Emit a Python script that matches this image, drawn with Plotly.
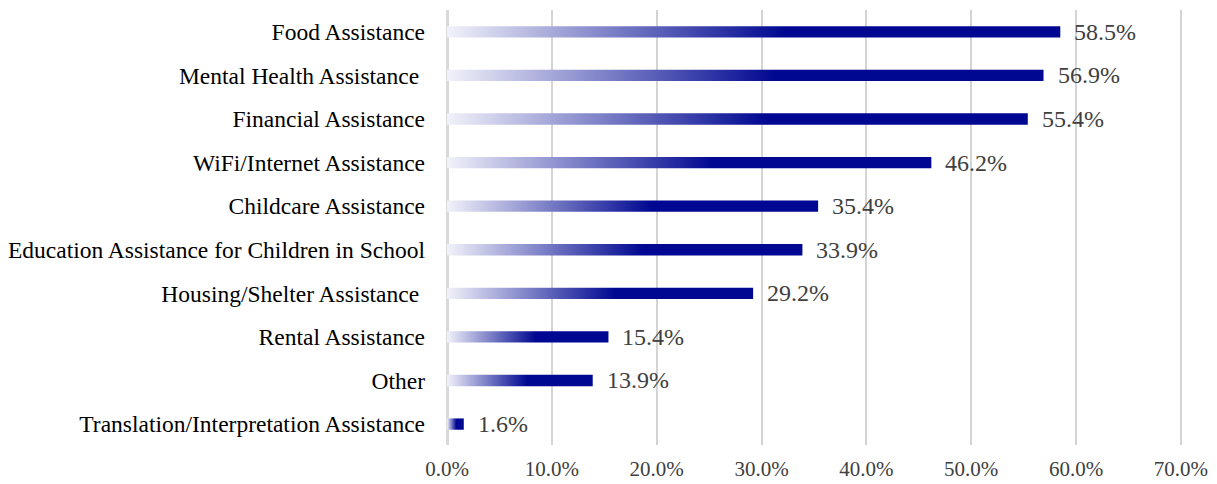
import plotly.graph_objects as go

categories = [
    "Food Assistance",
    "Mental Health Assistance\u00a0",
    "Financial Assistance",
    "WiFi/Internet Assistance",
    "Childcare Assistance",
    "Education Assistance for Children in School",
    "Housing/Shelter Assistance\u00a0",
    "Rental Assistance",
    "Other",
    "Translation/Interpretation Assistance",
]
values = [58.5, 56.9, 55.4, 46.2, 35.4, 33.9, 29.2, 15.4, 13.9, 1.6]
tick_vals = [0, 10, 20, 30, 40, 50, 60, 70]
tick_text = ["0.0%", "10.0%", "20.0%", "30.0%", "40.0%", "50.0%", "60.0%", "70.0%"]

DARK = "rgb(0,8,145)"
LIGHT = "rgb(242,242,250)"
HALF = 0.13
SERIF = "Liberation Serif, DejaVu Serif, serif"

n = len(categories)
fig = go.Figure()
for idx, (cat, v) in enumerate(zip(categories, values)):
    pos = n - 1 - idx
    fig.add_trace(go.Scatter(
        x=[0, v, v, 0, 0],
        y=[pos - HALF, pos - HALF, pos + HALF, pos + HALF, pos - HALF],
        mode="lines",
        line=dict(width=0),
        fill="toself",
        fillgradient=dict(
            type="horizontal",
            start=0,
            stop=v,
            colorscale=[[0, LIGHT], [0.55, DARK], [1, DARK]],
        ),
        hoverinfo="skip",
        showlegend=False,
    ))
    fig.add_annotation(
        x=v, y=pos, text=f"{v:.1f}%", showarrow=False,
        xanchor="left", yanchor="middle", xshift=12,
        font=dict(family=SERIF, size=24, color="#404040"),
    )

# page body has an 8px margin, so figure is sized to keep the plot area in place
fig.update_layout(
    width=1209, height=476,
    margin=dict(l=439, r=33, t=2, b=39),
    paper_bgcolor="white", plot_bgcolor="white",
    xaxis=dict(
        range=[0, 70.3], tickvals=tick_vals, ticktext=tick_text,
        showgrid=True, gridcolor="#d4d4d4", gridwidth=1.5,
        zeroline=True, zerolinecolor="#d9d9d9", zerolinewidth=3,
        showline=False, ticks="", ticklabelstandoff=9, automargin=False,
        tickfont=dict(family=SERIF, size=21, color="#404040"),
    ),
    yaxis=dict(
        range=[-0.48, 9.5], tickvals=list(range(n - 1, -1, -1)), ticktext=categories,
        showgrid=False, zeroline=False, showline=False, ticks="",
        ticklabelstandoff=21, automargin=False,
        tickfont=dict(family=SERIF, size=23.5, color="#000000"),
    ),
)

fig.write_html("out.html")
